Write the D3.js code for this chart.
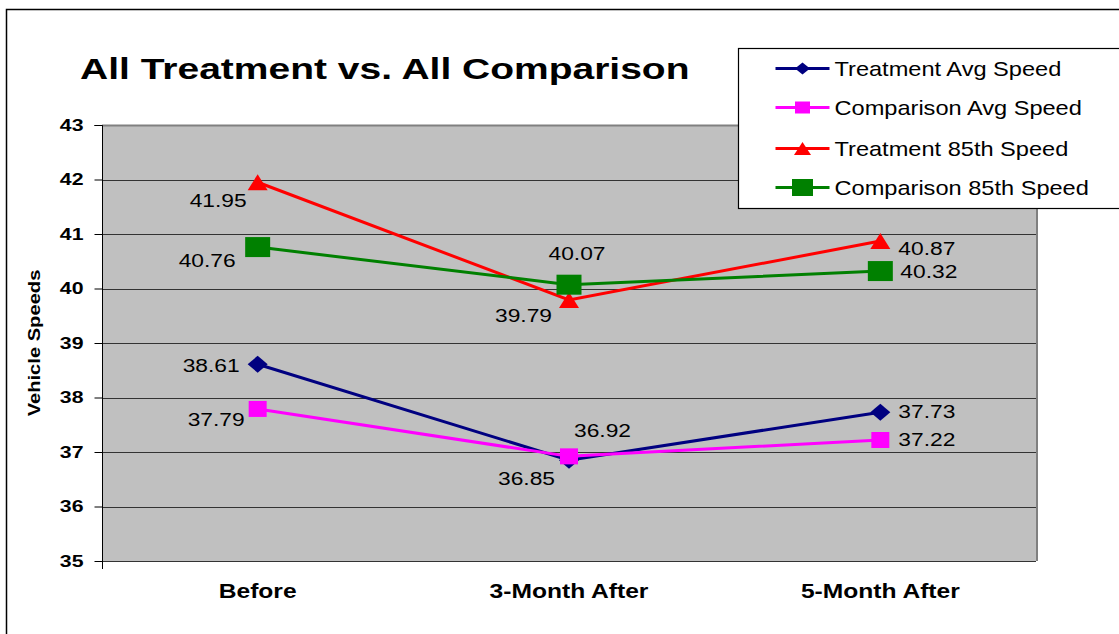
<!DOCTYPE html>
<meta charset='utf-8'>
<head>
  <title>All Treatment vs. All Comparison</title>
  <style>
    body { margin: 0; background: #fff; }
    svg { font-family: 'Liberation Sans', Arial, sans-serif; }
  </style>
</head>
<body>
  <div id='chart'></div>
</body>
<script src='https://d3js.org/d3.v7.min.js'></script>
<script>

var categories = ['Before', '3-Month After', '5-Month After'];
var seriesNames = ['Treatment Avg Speed', 'Comparison Avg Speed', 'Treatment 85th Speed', 'Comparison 85th Speed'];
var treatmentAvg = [38.61, 36.85, 37.73];
var comparisonAvg = [37.79, 36.92, 37.22];
var treatment85 = [41.95, 39.79, 40.87];
var comparison85 = [40.76, 40.07, 40.32];
var yTicks = [35, 36, 37, 38, 39, 40, 41, 42, 43];

var width = 1119,
    height = 634,
    margin = {top: 125, right: 83, bottom: 73, left: 102};

// the original picture is stretched sideways, so text is widened a bit
var stretch = 1.2;

var series = [
  {name: seriesNames[0], values: treatmentAvg, color: '#000080', marker: 'diamond',
   mw: 20, mh: 17, lw: 15, lh: 12,
   labels: [[-18, 8, 'end'], [-14, 25, 'end'], [18, 6, 'start']]},
  {name: seriesNames[1], values: comparisonAvg, color: '#ff00ff', marker: 'square',
   mw: 18, mh: 16, lw: 15, lh: 12,
   labels: [[-13, 17, 'end'], [5, -19, 'start'], [18, 6, 'start']]},
  {name: seriesNames[2], values: treatment85, color: '#ff0000', marker: 'triangle',
   mw: 20, mh: 16, lw: 17, lh: 13,
   labels: [[-11, 25, 'end'], [-17, 22, 'end'], [18, 14, 'start']]},
  {name: seriesNames[3], values: comparison85, color: '#008000', marker: 'square',
   mw: 25, mh: 20, lw: 21, lh: 17,
   labels: [[-22, 20, 'end'], [8, -25, 'middle'], [20, 7, 'start']]}
];

function markerPath(type, w, h) {
  var a = w / 2, b = h / 2;
  if (type === 'diamond') return 'M0,' + (-b) + 'L' + a + ',0L0,' + b + 'L' + (-a) + ',0Z';
  if (type === 'triangle') return 'M0,' + (-b) + 'L' + a + ',' + b + 'L' + (-a) + ',' + b + 'Z';
  return 'M' + (-a) + ',' + (-b) + 'H' + a + 'V' + b + 'H' + (-a) + 'Z';
}

function wideText(parent, px, py, sx, rotate) {
  var g = parent.append('g')
      .attr('transform', 'translate(' + px + ',' + py + ')' + (rotate ? ' rotate(' + rotate + ')' : '') + ' scale(' + sx + ',1)');
  return g.append('text');
}

var svg = d3.select('#chart').append('svg')
    .attr('width', width)
    .attr('height', height);

// outer frame
svg.append('rect')
    .attr('x', 6.5).attr('y', 9.5)
    .attr('width', width + 10).attr('height', height + 10)
    .attr('fill', '#fff').attr('stroke', '#000').attr('stroke-width', 1.5);

var x = d3.scaleBand()
    .domain(categories)
    .range([margin.left, width - margin.right]);

var y = d3.scaleLinear()
    .domain([35, 43])
    .range([height - margin.bottom, margin.top]);

// plot area
svg.append('rect')
    .attr('x', margin.left).attr('y', margin.top)
    .attr('width', width - margin.left - margin.right)
    .attr('height', height - margin.bottom - margin.top)
    .attr('fill', '#c0c0c0');

// gridlines
svg.append('g')
  .selectAll('line')
    .data(yTicks)
  .enter().append('line')
    .attr('x1', margin.left).attr('x2', width - margin.right)
    .attr('y1', function(d) { return Math.round(y(d)) + 0.5; })
    .attr('y2', function(d) { return Math.round(y(d)) + 0.5; })
    .attr('stroke', function(d) { return d === 43 ? '#808080' : '#333'; })
    .attr('stroke-width', function(d) { return d === 43 ? 2 : 1.2; });

// right border of plot
svg.append('line')
    .attr('x1', width - margin.right + 1).attr('x2', width - margin.right + 1)
    .attr('y1', margin.top).attr('y2', height - margin.bottom)
    .attr('stroke', '#808080').attr('stroke-width', 2);

// y axis
var tickScale = 1.33;
var yAxis = svg.append('g')
    .attr('transform', 'translate(' + (margin.left + 0.5) + ',0)')
    .call(d3.axisLeft(y).tickValues(yTicks).tickSize(8).tickPadding(0).tickFormat(d3.format('d')));
yAxis.select('.domain').attr('stroke', '#000')
    .attr('d', 'M-8,' + (margin.top + 0.5) + 'H0V' + (height - margin.bottom + 8));
yAxis.selectAll('.tick line').attr('stroke', '#000');
yAxis.selectAll('.tick text')
    .attr('fill', '#000')
    .attr('x', -19 / tickScale)
    .attr('dy', '0.33em')
    .attr('transform', 'scale(' + tickScale + ',1)')
    .style('font-size', '16px')
    .style('font-weight', 'bold')
    .style('font-family', "'Liberation Sans', Arial, sans-serif");

// x axis labels
categories.forEach(function(c) {
  wideText(svg, x(c) + x.bandwidth() / 2, height - margin.bottom + 37, 1.23)
      .attr('text-anchor', 'middle')
      .style('font-size', '20px')
      .style('font-weight', 'bold')
      .text(c);
});

// y axis title
wideText(svg, 40, (margin.top + height - margin.bottom) / 2, 1.26, -90)
    .attr('text-anchor', 'middle')
    .style('font-size', '16px')
    .style('font-weight', 'bold')
    .text('Vehicle Speeds');

// title
wideText(svg, 80, 79, 1.3)
    .style('font-size', '30px')
    .style('font-weight', 'bold')
    .text('All Treatment vs. All Comparison');

var line = d3.line()
    .x(function(d, i) { return x(categories[i]) + x.bandwidth() / 2; })
    .y(function(d) { return y(d); });

series.forEach(function(s) {
  svg.append('path')
      .datum(s.values)
      .attr('d', line)
      .attr('fill', 'none')
      .attr('stroke', s.color)
      .attr('stroke-width', 3);
});

series.forEach(function(s) {
  svg.append('g')
    .selectAll('path')
      .data(s.values)
    .enter().append('path')
      .attr('transform', function(d, i) {
        return 'translate(' + (x(categories[i]) + x.bandwidth() / 2) + ',' + y(d) + ')';
      })
      .attr('d', markerPath(s.marker, s.mw, s.mh))
      .attr('fill', s.color);
});

series.forEach(function(s) {
  s.values.forEach(function(v, i) {
    var lab = s.labels[i];
    wideText(svg, x(categories[i]) + x.bandwidth() / 2 + lab[0], y(v) + lab[1], stretch)
        .attr('text-anchor', lab[2])
        .style('font-size', '19px')
        .text(d3.format('.2f')(v));
  });
});

// legend
var legend = svg.append('g').attr('transform', 'translate(738.5,48.5)');
legend.append('rect')
    .attr('width', 390).attr('height', 160)
    .attr('fill', '#fff').attr('stroke', '#000').attr('stroke-width', 1.2);

var rowY = [20, 59, 100, 139];
series.forEach(function(s, i) {
  var row = legend.append('g').attr('transform', 'translate(0,' + rowY[i] + ')');
  row.append('line')
      .attr('x1', 37).attr('x2', 91)
      .attr('stroke', s.color)
      .attr('stroke-width', 3);
  row.append('path')
      .attr('transform', 'translate(64,0)')
      .attr('d', markerPath(s.marker, s.lw, s.lh))
      .attr('fill', s.color);
  wideText(row, 96, 7, 1.18)
      .style('font-size', '20px')
      .text(s.name);
});

</script>
